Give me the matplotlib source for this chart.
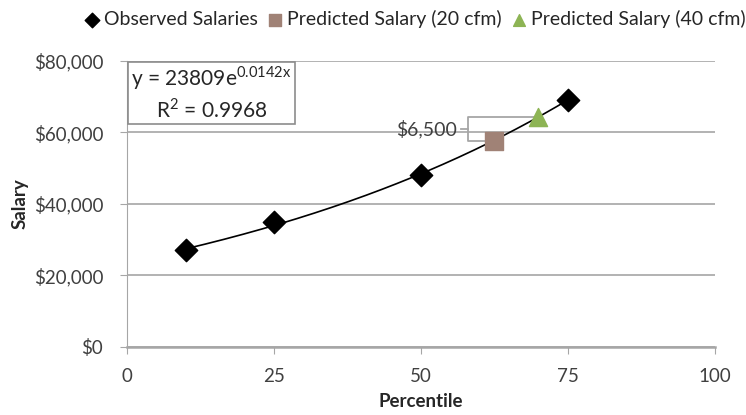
import numpy as np
import matplotlib.pyplot as plt
from matplotlib.ticker import FuncFormatter
from matplotlib.patches import Rectangle

plt.rcParams['font.family'] = ['Lato', 'DejaVu Sans']
plt.rcParams['mathtext.fontset'] = 'custom'
plt.rcParams['mathtext.rm'] = 'Lato'

# observed salaries
pct = [10, 25, 50, 75]
salary = [27000, 35000, 48000, 69000]
# predicted points
pct_20 = [62.4]
sal_20 = [57500]
pct_40 = [70]
sal_40 = [64300]
# trendline coefficients as shown on the chart
a, b = 23809, 0.0142

fig = plt.figure(figsize=(7.46, 4.15), dpi=100)
ax = fig.add_axes([0.170, 0.164, 0.788, 0.689])

xs = np.linspace(pct[0], pct[-1], 200)
ax.plot(xs, a * np.exp(b * xs), color='black', lw=1.2, zorder=2)

ax.scatter(pct, salary, marker='D', s=130, color='black', zorder=3, label='Observed Salaries')
ax.scatter(pct_20, sal_20, marker='s', s=150, color='#a08276', zorder=3, label='Predicted Salary (20 cfm)')
ax.scatter(pct_40, sal_40, marker='^', s=170, color='#8db454', zorder=3, label='Predicted Salary (40 cfm)')

# bracket showing the difference
bx = 58
ax.plot([pct_20[0], bx, bx, pct_40[0]], [sal_20[0], sal_20[0], sal_40[0], sal_40[0]],
        color='#a6a6a6', lw=1.3, zorder=1)
mid = (sal_20[0] + sal_40[0]) / 2
ax.plot([bx - 1.2, bx], [mid, mid], color='#a6a6a6', lw=1.3, zorder=1)
ax.text(bx - 1.8, mid, '$6,500', ha='right', va='center', fontsize=14, color='#404040')

ax.set_xlim(0, 100)
ax.set_ylim(0, 80000)
ax.set_xticks([0, 25, 50, 75, 100])
ax.set_yticks([0, 20000, 40000, 60000, 80000])
ax.yaxis.set_major_formatter(FuncFormatter(lambda v, p: '${:,.0f}'.format(v)))
ax.grid(axis='y', color='#a6a6a6', lw=1.2)
ax.set_axisbelow(True)
for s in ['top', 'right']:
    ax.spines[s].set_visible(False)
ax.spines['left'].set_color('#a6a6a6')
ax.spines['bottom'].set_color('#a6a6a6')
ax.spines['bottom'].set_linewidth(1.8)
ax.tick_params(colors='#a6a6a6', labelcolor='#404040', labelsize=13.5, length=5, direction='out')
ax.tick_params(axis='x', pad=10)
ax.tick_params(axis='y', pad=12)
ax.set_xlabel('Percentile', fontsize=13.5, fontweight='bold', color='#262626', labelpad=6)
ax.set_ylabel('Salary', fontsize=13.5, fontweight='bold', color='#262626', labelpad=4)

# equation box
ax.add_patch(Rectangle((0.002, 0.78), 0.284, 0.218, transform=ax.transAxes,
                       fc='white', ec='#8c8c8c', lw=1.2, zorder=4))
ax.text(0.144, 0.889, 'y = 23809e$^{\\mathrm{0.0142x}}$\nR$^{\\mathrm{2}}$ = 0.9968', transform=ax.transAxes,
        ha='center', va='center', fontsize=15, color='#262626', linespacing=1.25, zorder=5)

fig.legend(loc='upper left', bbox_to_anchor=(0.10, 1.0), ncol=3, frameon=False,
           fontsize=14, handletextpad=0.2, columnspacing=0.5, handlelength=0.8,
           markerscale=0.65, labelcolor='#262626', borderaxespad=0.1)

fig.savefig('out.png', dpi=100)
